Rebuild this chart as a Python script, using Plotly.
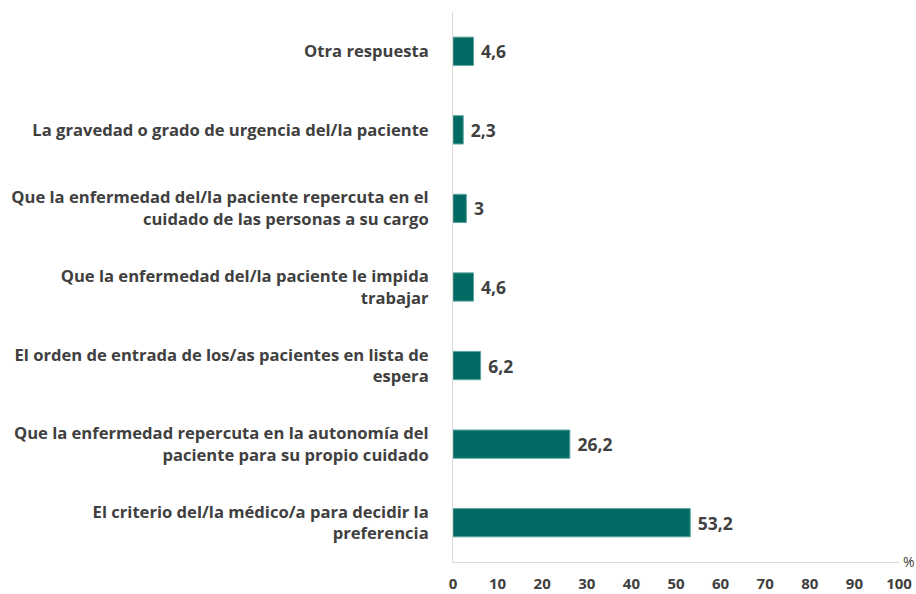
import plotly.graph_objects as go

categories = [
    "El criterio del/la médico/a para decidir la<br>preferencia",
    "Que la enfermedad repercuta en la autonomía del<br>paciente para su propio cuidado",
    "El orden de entrada de los/as pacientes en lista de<br>espera",
    "Que la enfermedad del/la paciente le impida<br>trabajar",
    "Que la enfermedad del/la paciente repercuta en el<br>cuidado de las personas a su cargo",
    "La gravedad o grado de urgencia del/la paciente",
    "Otra respuesta",
]
values = [53.2, 26.2, 6.2, 4.6, 3, 2.3, 4.6]
tick_vals = [0, 10, 20, 30, 40, 50, 60, 70, 80, 90, 100]

labels = [" " + ("%g" % v).replace(".", ",") for v in values]
font = "'Open Sans', sans-serif"
txt = "#404040"

fig = go.Figure(go.Bar(
    x=values, y=categories, orientation="h",
    marker=dict(color="#006A63", line=dict(color="#5FA8A2", width=1)),
    text=labels, textposition="outside", cliponaxis=False,
    textfont=dict(family=font, size=17.5, color=txt, weight="bold"),
))
fig.update_layout(
    width=916, height=594,
    margin=dict(l=453, r=17, t=12, b=32),
    plot_bgcolor="white", paper_bgcolor="white",
    bargap=0.64, showlegend=False,
    font=dict(family=font, size=16, color=txt),
    xaxis=dict(range=[0, 100], tickvals=tick_vals, showgrid=False, zeroline=False,
               showline=True, linecolor="#D9D9D9", linewidth=1, automargin=False,
               tickfont=dict(family=font, size=15, color=txt, weight="bold"),
               ticks="", ticklabelstandoff=8),
    yaxis=dict(showgrid=False, zeroline=False, showline=True, linecolor="#D9D9D9",
               linewidth=1, ticks="", ticklabelstandoff=20, automargin=False,
               tickfont=dict(family=font, size=16.6, color=txt, weight="bold")),
    annotations=[dict(text="%", x=1, y=0, xref="paper", yref="paper",
                      xanchor="left", yanchor="middle", showarrow=False,
                      xshift=2, yshift=1,
                      font=dict(family=font, size=14, color=txt))],
)
fig.write_html(
    "out.html",
    config={"displayModeBar": False},
    post_script="document.body.style.margin='0';document.body.style.overflow='hidden';",
)
